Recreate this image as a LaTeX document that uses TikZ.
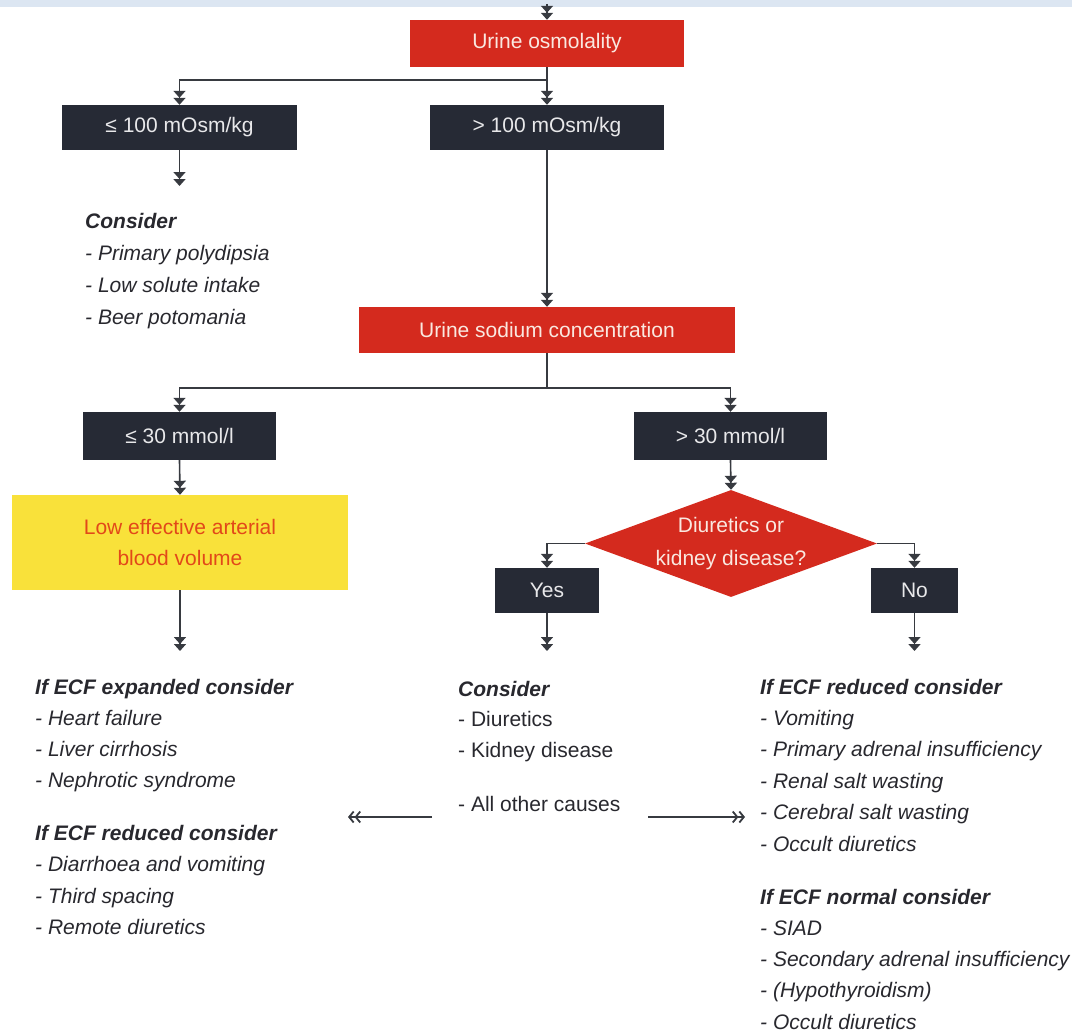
\documentclass[tikz,border=0pt]{standalone}
\usepackage{fontspec}
\setmainfont{Liberation Sans}
\usetikzlibrary{arrows.meta,shapes.geometric}
\definecolor{cband}{RGB}{220,230,242}
\definecolor{cred}{RGB}{212,42,30}
\definecolor{credtxt}{RGB}{250,232,224}
\definecolor{cdark}{RGB}{38,42,53}
\definecolor{cdarktxt}{RGB}{232,232,234}
\definecolor{cyel}{RGB}{249,225,58}
\definecolor{cyeltxt}{RGB}{226,72,25}
\definecolor{cline}{RGB}{55,58,64}
\definecolor{ctext}{RGB}{40,40,46}
\newcommand\mylistblock[5]{%
  \foreach \t [count=\i from 0] in {#5} {%
    \node[lt] (#1\i) at (#2, #3+\i*#4) {\t};}}
\begin{document}
\begin{tikzpicture}[x=1pt,y=-1pt,
  font=\fontsize{21}{25}\selectfont,
  redbox/.style={fill=cred, text=credtxt, inner sep=0pt},
  darkbox/.style={fill=cdark, text=cdarktxt, inner sep=0pt},
  arr/.style={draw=cline, line width=1.6pt,
    -{Triangle[length=7pt,width=12pt]Triangle[length=7pt,width=12pt]}},
  harr/.style={draw=cline, line width=1.5pt,
    -{Straight Barb[length=4.5pt,width=11pt,line width=1.8pt]Straight Barb[length=4.5pt,width=11pt,line width=1.8pt]}},
  lt/.style={text=ctext, inner sep=0pt, anchor=base west}]
\useasboundingbox (0,0) rectangle (1072,1033);
\fill[cband] (0,0) rectangle (1072,7);

% boxes
\node[redbox, minimum width=274pt, minimum height=47pt] (uo) at (547,43.5) {Urine osmolality};
\node[darkbox, minimum width=235pt, minimum height=45pt] (le100) at (179.5,127.5) {≤ 100 mOsm/kg};
\node[darkbox, minimum width=234pt, minimum height=45pt] (gt100) at (547,127.5) {> 100 mOsm/kg};
\node[redbox, minimum width=376pt, minimum height=46pt] (usc) at (547,330) {Urine sodium concentration};
\node[darkbox, minimum width=193pt, minimum height=48pt] (le30) at (179.5,436) {≤ 30 mmol/l};
\node[darkbox, minimum width=193pt, minimum height=48pt] (gt30) at (730.5,436) {> 30 mmol/l};
\node[fill=cyel, text=cyeltxt, minimum width=336pt, minimum height=95pt, align=center,
  font=\fontsize{21}{31}\selectfont] (aebv) at (180,542.5) {Low effective arterial\\blood volume};
\node[diamond, fill=cred, aspect=2.73, inner sep=0pt, minimum width=292pt, minimum height=107pt] (dk) at (731,543.5) {};
\node[text=credtxt, align=center, font=\fontsize{21}{33}\selectfont] (dkt) at (731,543.5) {Diuretics or\\kidney disease?};
\node[darkbox, minimum width=104pt, minimum height=45pt] (yes) at (547,590.5) {Yes};
\node[darkbox, minimum width=87pt, minimum height=45pt] (no) at (914.5,590.5) {No};

% free ends
\coordinate (top) at (547,4);
\coordinate (e1) at (179.5,186);
\coordinate (e2) at (180,651);
\coordinate (e3) at (547,651);
\coordinate (e4) at (914.5,651);
\coordinate (al1) at (432,817);
\coordinate (al2) at (348,817);
\coordinate (ar1) at (648,817);
\coordinate (ar2) at (745,817);

% connectors
\draw[arr] (top) -- (uo.north);
\draw[arr] (uo.south) -- ++(0,13) -| (le100.north);
\draw[arr] (uo.south) -- (gt100.north);
\draw[arr] (le100.south) -- (e1);
\draw[arr] (gt100.south) -- (usc.north);
\draw[arr] (usc.south) -- ++(0,35) -| (le30.north);
\draw[arr] (usc.south) -- ++(0,35) -| (gt30.north);
\draw[arr] (le30.south) -- (aebv.north);
\draw[arr] (aebv.south) -- (e2);
\draw[arr] (gt30.south) -- (dk.north);
\draw[arr] (dk.west) -| (yes.north);
\draw[arr] (dk.east) -| (no.north);
\draw[arr] (yes.south) -- (e3);
\draw[arr] (no.south) -- (e4);
\draw[harr] (al1) -- (al2);
\draw[harr] (ar1) -- (ar2);

% text blocks
\mylistblock{lta}{85}{228}{32}{{\bfseries\itshape Consider},{\itshape - Primary polydipsia},{\itshape - Low solute intake},{\itshape - Beer potomania}}
\mylistblock{lba}{35}{694}{31}{{\bfseries\itshape If ECF expanded consider},{\itshape - Heart failure},{\itshape - Liver cirrhosis},{\itshape - Nephrotic syndrome}}
\mylistblock{lbb}{35}{840}{31.5}{{\bfseries\itshape If ECF reduced consider},{\itshape - Diarrhoea and vomiting},{\itshape - Third spacing},{\itshape - Remote diuretics}}
\mylistblock{ca}{458}{696}{30.5}{{\bfseries\itshape Consider},{- Diuretics},{- Kidney disease}}
\node[lt] (ao) at (458,811) {- All other causes};
\mylistblock{ra}{760}{694}{31.4}{{\bfseries\itshape If ECF reduced consider},{\itshape - Vomiting},{\itshape - Primary adrenal insufficiency},{\itshape - Renal salt wasting},{\itshape - Cerebral salt wasting},{\itshape - Occult diuretics}}
\mylistblock{rb}{760}{904}{31.3}{{\bfseries\itshape If ECF normal consider},{\itshape - SIAD},{\itshape - Secondary adrenal insufficiency},{\itshape - (Hypothyroidism)},{\itshape - Occult diuretics}}
\end{tikzpicture}
\end{document}
